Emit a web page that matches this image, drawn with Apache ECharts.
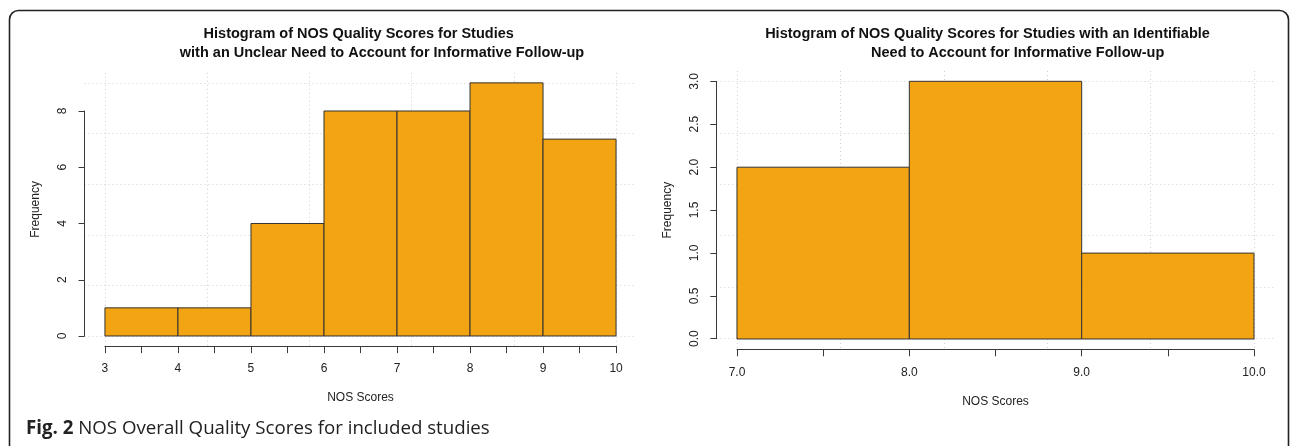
<!DOCTYPE html>
<html><head><meta charset="utf-8">
<script src="https://cdn.jsdelivr.net/npm/echarts@6/dist/echarts.min.js"></script>
<style>html,body{margin:0;padding:0;background:#fff}#c{width:1290px;height:446px}</style>
</head><body><div id="c"></div>
<script>
// Left histogram: bin edges and counts
const leftBinStarts = [3, 4, 5, 6, 7, 8, 9];
const leftBinEnds   = [4, 5, 6, 7, 8, 9, 10];
const leftCounts    = [1, 1, 4, 8, 8, 9, 7];
// Right histogram
const rightBinStarts = [7, 8, 9];
const rightBinEnds   = [8, 9, 10];
const rightCounts    = [2, 3, 1];

const leftTitle1 = 'Histogram of NOS Quality Scores for Studies';
const leftTitle2 = 'with an Unclear Need to Account for Informative Follow-up';
const rightTitle1 = 'Histogram of NOS Quality Scores for Studies with an Identifiable';
const rightTitle2 = 'Need to Account for Informative Follow-up';
const xName = 'NOS Scores';
const yName = 'Frequency';
const captionBold = 'Fig. 2';
const captionText = 'NOS Overall Quality Scores for included studies';

const FONT = '"Liberation Sans", Arial, Helvetica, sans-serif';
const CAPFONT = '"Open Sans", "Noto Sans", sans-serif';
const BAR = '#F2A412';
const GRIDC = '#CFCFCF';
const AXC = '#3a3a3a';

function bins(s, e, c) { return s.map((v, i) => [v, e[i], c[i]]); }

function renderBar(params, api) {
  const p0 = api.coord([api.value(0), api.value(2)]);
  const p1 = api.coord([api.value(1), 0]);
  return {
    type: 'rect',
    shape: { x: p0[0], y: p0[1], width: p1[0] - p0[0], height: p1[1] - p0[1] },
    style: { fill: BAR, stroke: '#333', lineWidth: 1 }
  };
}

const hidden = { axisLine: { show: false }, axisTick: { show: false }, axisLabel: { show: false }, splitLine: { show: false } };
const tickLabel = { color: '#222', fontFamily: FONT, fontSize: 12 };

const W = 1290, H = 446;
const P = {
  L: { frame: [84.5, 636.5, 72.75, 346.1], data: [104.9, 616.1, 82.9, 336],
       xr: [2.72, 10.28], yr: [-0.36, 9.36], yTop: 111, xGridInt: 1.4, yGridInt: 1.8,
       yAxisMax: 8, yAxisInt: 2, yGridMax: 9, xmin: 3, xmax: 10 },
  R: { frame: [716.3, 1274.7, 71, 349.3], data: [737, 1254, 81.3, 338.7],
       xr: [6.88, 10.12], yr: [-0.12, 3.12], yTop: 81.3, xGridInt: 0.6, yGridInt: 0.6,
       yAxisMax: 3, yAxisInt: 0.5, yGridMax: 3, xmin: 7, xmax: 10 }
};

const grid = [], xAxis = [], yAxis = [], series = [];
function addPanel(p, data, xFmt, yFmt) {
  const g0 = grid.length;
  const [fl, fr, ft, fb] = p.frame;
  const [dl, dr, dt, db] = p.data;
  grid.push({ left: fl, right: W - fr, top: ft, bottom: H - fb });
  xAxis.push(Object.assign({ gridIndex: g0, type: 'value', min: p.xr[0], max: p.xr[1],
    name: xName, nameLocation: 'middle', nameGap: 46,
    nameTextStyle: { fontFamily: FONT, fontSize: 12, color: '#222' } }, hidden));
  yAxis.push(Object.assign({ gridIndex: g0, type: 'value', min: p.yr[0], max: p.yr[1],
    name: yName, nameLocation: 'middle', nameGap: 43, nameRotate: 90,
    nameTextStyle: { fontFamily: FONT, fontSize: 12, color: '#222' } }, hidden));
  grid.push({ left: dl, right: W - dr, top: ft, bottom: H - fb });
  xAxis.push(Object.assign({}, hidden, { gridIndex: g0 + 1, type: 'value', min: p.xmin, max: p.xmax, interval: p.xGridInt,
    splitLine: { show: true, lineStyle: { color: GRIDC, type: [1, 3], width: 1 } } }));
  yAxis.push(Object.assign({ gridIndex: g0 + 1, type: 'value', min: 0, max: 1 }, hidden));
  grid.push({ left: fl, right: W - fr, top: dt, bottom: H - db });
  xAxis.push(Object.assign({ gridIndex: g0 + 2, type: 'value', min: 0, max: 1 }, hidden));
  yAxis.push(Object.assign({}, hidden, { gridIndex: g0 + 2, type: 'value', min: 0, max: p.yGridMax, interval: p.yGridInt,
    splitLine: { show: true, lineStyle: { color: GRIDC, type: [1, 3], width: 1 } } }));
  grid.push({ left: fl, width: 50, top: p.yTop, bottom: H - db });
  xAxis.push(Object.assign({ gridIndex: g0 + 3, type: 'value', min: 0, max: 1 }, hidden));
  yAxis.push({ gridIndex: g0 + 3, type: 'value', min: 0, max: p.yAxisMax, interval: p.yAxisInt,
    axisLine: { show: true, lineStyle: { color: AXC, width: 1 } },
    axisTick: { show: true, length: 6, lineStyle: { color: AXC } },
    axisLabel: Object.assign({ rotate: 90, margin: 16, formatter: yFmt }, tickLabel),
    splitLine: { show: false } });
  grid.push({ left: dl, right: W - dr, top: 300, bottom: H - fb });
  xAxis.push({ gridIndex: g0 + 4, type: 'value', min: p.xmin, max: p.xmax, interval: 0.5,
    axisLine: { show: true, onZero: false, lineStyle: { color: AXC, width: 1 } },
    axisTick: { show: true, length: 7, lineStyle: { color: AXC } },
    axisLabel: Object.assign({ margin: 17, formatter: xFmt, showMinLabel: true, showMaxLabel: true }, tickLabel),
    splitLine: { show: false } });
  yAxis.push(Object.assign({ gridIndex: g0 + 4, type: 'value', min: 0, max: 1 }, hidden));

  series.push({ type: 'custom', xAxisIndex: g0, yAxisIndex: g0, renderItem: renderBar,
    encode: { x: [0, 1], y: 2 }, data: data, silent: true, animation: false });
}

addPanel(P.L, bins(leftBinStarts, leftBinEnds, leftCounts),
  v => (v % 1 === 0 ? String(v) : ''), v => String(v));
addPanel(P.R, bins(rightBinStarts, rightBinEnds, rightCounts),
  v => (v % 1 === 0 ? v.toFixed(1) : ''), v => v.toFixed(1));

const titleStyle = { fontFamily: FONT, fontSize: 14.5, fontWeight: 'bold', color: '#111' };
const option = {
  animation: false,
  backgroundColor: '#fff',
  title: [
    { text: leftTitle1, left: 358.7, top: 26, textAlign: 'center', textStyle: titleStyle, padding: 0 },
    { text: leftTitle2, left: 382, top: 45, textAlign: 'center', textStyle: titleStyle, padding: 0 },
    { text: rightTitle1, left: 987.5, top: 26, textAlign: 'center', textStyle: titleStyle, padding: 0 },
    { text: rightTitle2, left: 1017.7, top: 45, textAlign: 'center', textStyle: titleStyle, padding: 0 },
    { text: '{b|' + captionBold + '} ' + captionText, left: 26, top: 419, padding: 0,
      textStyle: { fontFamily: CAPFONT, fontSize: 18.7, fontWeight: 'normal', color: '#222',
        rich: { b: { fontFamily: CAPFONT, fontSize: 18.7, fontWeight: 'bold', color: '#222' } } } }
  ],
  graphic: [{
    type: 'rect', silent: true, z: -1,
    shape: { x: 9.5, y: 10.5, width: 1279, height: 480, r: [9, 9, 0, 0] },
    style: { fill: 'none', stroke: '#222', lineWidth: 1.6 }
  }],
  grid, xAxis, yAxis, series
};
const chart = echarts.init(document.getElementById('c'), null, { renderer: 'canvas' });
chart.setOption(option);
</script>
</body></html>
